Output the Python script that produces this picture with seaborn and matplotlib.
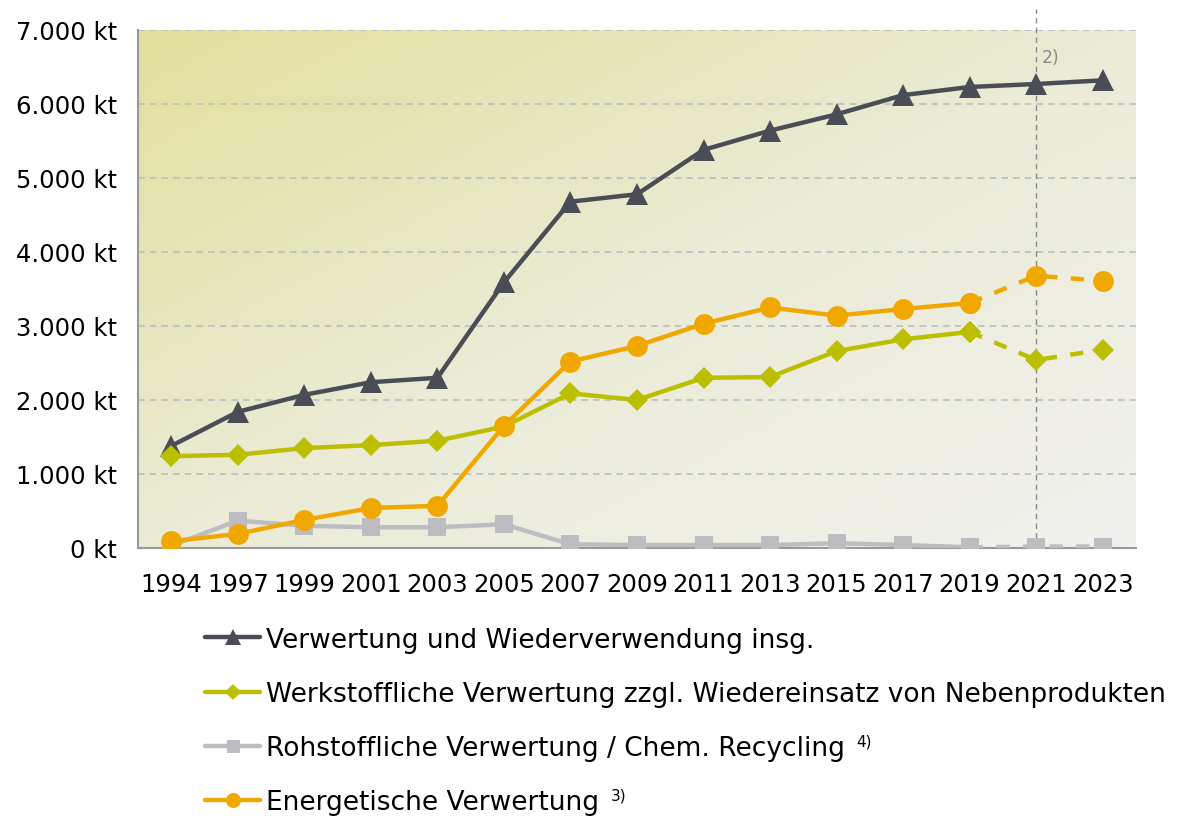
import numpy as np
import pandas as pd
import matplotlib
matplotlib.use("Agg")
import matplotlib.pyplot as plt
from matplotlib.colors import LinearSegmentedColormap
import seaborn as sns

# Data (kt)
YEARS = ["1994", "1997", "1999", "2001", "2003", "2005", "2007", "2009",
         "2011", "2013", "2015", "2017", "2019", "2021", "2023"]
TOTAL = [1380, 1840, 2070, 2240, 2300, 3590, 4680, 4780,
         5380, 5640, 5860, 6120, 6230, 6270, 6320]
WERKSTOFF = [1240, 1260, 1350, 1390, 1450, 1640, 2090, 2000,
             2300, 2310, 2660, 2820, 2920, 2540, 2680]
ROHSTOFF = [30, 370, 300, 280, 280, 320, 50, 40,
            40, 40, 65, 40, 10, 20, 20]
ENERGIE = [90, 190, 380, 540, 570, 1650, 2520, 2730,
           3030, 3250, 3140, 3230, 3310, 3680, 3610]

LABELS = [
    "Verwertung und Wiederverwendung insg.",
    "Werkstoffliche Verwertung zzgl. Wiedereinsatz von Nebenprodukten",
    "Rohstoffliche Verwertung / Chem. Recycling",
    "Energetische Verwertung",
]
FOOTNOTES = [None, None, "4)", "3)"]
SERIES = [TOTAL, WERKSTOFF, ROHSTOFF, ENERGIE]
COLORS = ["#4a4d56", "#bcbf00", "#bdbdc1", "#f0a800"]
MARKERS = ["^", "D", "s", "o"]
MSIZES = [16, 11, 13, 15]
DASHED_FROM = [None, 12, 12, 12]  # index of 2019: dashed afterwards

sns.set_style("white")
plt.rcParams["font.family"] = ["DejaVu Sans"]
plt.rcParams["text.color"] = "black"

fig = plt.figure(figsize=(11.82, 8.2), dpi=100)
ax = fig.add_axes([0.1168, 0.3305, 0.8442, 0.6317])

# gradient background
gx, gy = np.meshgrid(np.linspace(0, 1, 100), np.linspace(0, 1, 100))
grad = np.clip((gx + gy) / 2.0, 0, 1)
cmap = LinearSegmentedColormap.from_list("bg", ["#e0e09c", "#ebebd6", "#f1f1ef"])
ax.imshow(grad, cmap=cmap, extent=[-0.5, 14.5, 0, 7000], aspect="auto",
          zorder=0, origin="upper")

xs = np.arange(len(YEARS))
for vals, lab, col, mk, ms, dfrom in zip(SERIES, LABELS, COLORS, MARKERS, MSIZES, DASHED_FROM):
    df = pd.DataFrame({"x": xs, "y": vals})
    solid = df if dfrom is None else df.iloc[:dfrom + 1]
    sns.lineplot(data=solid, x="x", y="y", ax=ax, color=col, lw=3.2,
                 marker=mk, markersize=ms, markeredgewidth=0, label=lab,
                 zorder=3, errorbar=None)
    if dfrom is not None:
        dash = df.iloc[dfrom:]
        sns.lineplot(data=dash, x="x", y="y", ax=ax, color=col, lw=3.2,
                     linestyle=(0, (3, 3)), marker=mk, markersize=ms,
                     markeredgewidth=0, zorder=3, errorbar=None, legend=False)

# 2021 method break line
ax.axvline(13, ymin=0, ymax=1.04, color="#8a8a8a", lw=1.0,
           linestyle=(0, (4, 3)), clip_on=False, zorder=2)
ax.text(13.08, 6630, "2)", color="#8a8a8a", fontsize=12.5, va="center", ha="left")

ax.set_xlim(-0.5, 14.5)
ax.set_ylim(0, 7000)
ax.set_yticks(range(0, 7001, 1000))
ax.set_yticklabels([f"{v:,}".replace(",", ".") + " kt" for v in range(0, 7001, 1000)],
                   fontsize=17.5, color="black")
ax.set_xticks(xs)
ax.set_xticklabels(YEARS, fontsize=17.5, color="black")
ax.set_xticks(np.arange(-0.5, 14.6, 1), minor=True)
ax.tick_params(axis="x", which="major", length=0, pad=17)
ax.tick_params(axis="x", which="minor", length=7, color="#9a9a9a", width=1.2)
ax.tick_params(axis="y", length=7, color="#9a9a9a", width=1.2, pad=8)
ax.grid(axis="y", color="#bdbdbd", linestyle=(0, (4, 3)), lw=1.2, zorder=1)
ax.set_axisbelow(True)
ax.set_xlabel("")
ax.set_ylabel("")
for s in ["top", "right"]:
    ax.spines[s].set_visible(False)
for s in ["left", "bottom"]:
    ax.spines[s].set_color("#9a9a9a")
    ax.spines[s].set_linewidth(1.5)

handles, labels = ax.get_legend_handles_labels()
leg = ax.legend(handles, labels, loc="upper left", bbox_to_anchor=(0.1734, 0.2345),
                bbox_transform=fig.transFigure, frameon=False, fontsize=19,
                handlelength=2.1, handletextpad=0.2, labelspacing=1.07,
                borderaxespad=0, borderpad=0, markerscale=0.72)

# superscript footnotes next to legend labels
fig.canvas.draw()
renderer = fig.canvas.get_renderer()
for txt, note in zip(leg.get_texts(), FOOTNOTES):
    if note is None:
        continue
    bb = txt.get_window_extent(renderer)
    fig.text((bb.x1 + 12) / fig.bbox.width, (bb.y1 + 2) / fig.bbox.height, note,
             fontsize=11, ha="left", va="top")

fig.savefig("out.png", dpi=100)
